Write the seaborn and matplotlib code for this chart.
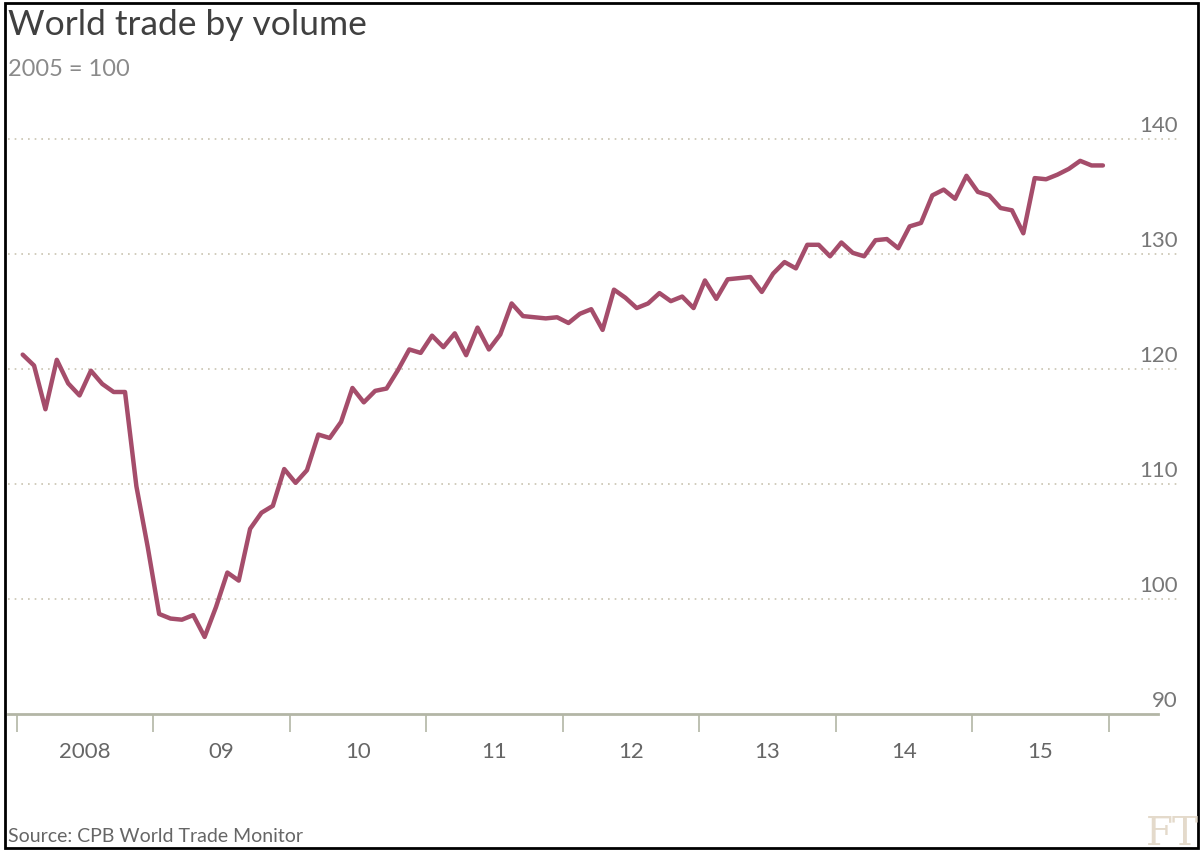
import matplotlib
matplotlib.use("Agg")
import matplotlib.pyplot as plt
import seaborn as sns
import pandas as pd
from matplotlib.transforms import offset_copy, blended_transform_factory
from matplotlib.patches import Rectangle

# ---- data (World trade by volume, 2005 = 100, monthly Jan 2008 - Dec 2015) ----
start_month = "2008-01-01"
volume = [
    121.25, 120.3, 116.5, 120.8, 118.75, 117.7, 119.85, 118.7, 118.0, 118.0, 109.8, 104.5,
    98.7, 98.3, 98.2, 98.6, 96.7, 99.3, 102.3, 101.6, 106.1, 107.5, 108.1, 111.3,
    110.1, 111.2, 114.3, 114.0, 115.4, 118.35, 117.1, 118.1, 118.3, 119.9, 121.7, 121.4,
    122.9, 121.9, 123.1, 121.2, 123.6, 121.7, 123.0, 125.7, 124.6, 124.5, 124.4, 124.5,
    124.0, 124.8, 125.2, 123.4, 126.9, 126.2, 125.3, 125.7, 126.6, 125.9, 126.3, 125.3,
    127.7, 126.1, 127.8, 127.9, 128.0, 126.7, 128.3, 129.3, 128.75, 130.8, 130.8, 129.8,
    131.0, 130.1, 129.8, 131.2, 131.3, 130.5, 132.4, 132.7, 135.1, 135.6, 134.8, 136.8,
    135.4, 135.1, 134.0, 133.8, 131.8, 136.6, 136.5, 136.9, 137.4, 138.1, 137.7, 137.7,
]
years = [2008, 2009, 2010, 2011, 2012, 2013, 2014, 2015]
year_labels = ["2008", "09", "10", "11", "12", "13", "14", "15"]
y_ticks = [90, 100, 110, 120, 130, 140]

title = "World trade by volume"
subtitle = "2005 = 100"
source = "Source: CPB World Trade Monitor"

# ---- build frame ----
months = pd.date_range(start_month, periods=len(volume), freq="MS")
df = pd.DataFrame({"month": months, "volume": volume})
df["x"] = df["month"].dt.year + (df["month"].dt.month - 0.5) / 12

sns.set_theme(style="white")
plt.rcParams["font.family"] = ["Lato", "DejaVu Sans"]

W, H = 1203, 851
fig = plt.figure(figsize=(W / 100, H / 100), dpi=100)
fig.patch.set_facecolor("white")

ax_left, ax_right, ax_top, ax_bottom = 8, 1178, 110, 714
ax = fig.add_axes([ax_left / W, 1 - ax_bottom / H, (ax_right - ax_left) / W, (ax_bottom - ax_top) / H])
ax.set_facecolor("white")

px_per_year = 136.45
x0_px = 17
px_per_unit = 11.5

line_color = "#a54d6b"
axis_color = "#b3b6a6"
grid_color = "#c9c4b0"

sns.lineplot(data=df, x="x", y="volume", ax=ax, color=line_color, linewidth=3.2)

xmin = years[0] + (ax_left - x0_px) / px_per_year
xmax = years[0] + (ax_right - x0_px) / px_per_year
ax.set_xlim(xmin, xmax)
ax.set_ylim(y_ticks[0], y_ticks[0] + (ax_bottom - ax_top) / px_per_unit)

for s in ["top", "left", "right"]:
    ax.spines[s].set_visible(False)
ax.spines["bottom"].set_color(axis_color)
ax.spines["bottom"].set_linewidth(2)
ax.spines["bottom"].set_bounds(xmin, years[0] + (1158 - x0_px) / px_per_year)

# gridlines
for v in y_ticks[1:]:
    ax.axhline(v, color=grid_color, lw=1.2, ls=(0, (1, 3)), zorder=0)

# y labels above gridlines on the right
tr = offset_copy(blended_transform_factory(ax.transAxes, ax.transData), fig=fig, y=7, units="dots")
for v in y_ticks:
    ax.text(1.0, v, str(v), transform=tr, ha="right", va="baseline", fontsize=16, color="#777777")
ax.set_yticks([])
ax.set_ylabel("")
ax.set_xlabel("")

# x ticks
ax.set_xticks(years + [years[-1] + 1])
ax.set_xticklabels([])
ax.set_xticks([y + 0.5 for y in years], minor=True)
ax.set_xticklabels(year_labels, minor=True)
ax.tick_params(axis="x", which="major", bottom=True, direction="out", length=13, width=1.2, color=axis_color)
ax.tick_params(axis="x", which="minor", bottom=True, length=0, pad=20, labelsize=16, labelcolor="#666666")

# texts
fig.text(8 / W, 1 - 25 / H, title, fontsize=25.5, color="#404040", va="center", ha="left")
fig.text(8 / W, 1 - 70 / H, subtitle, fontsize=17, color="#8a8a8a", va="center", ha="left")
fig.text(8 / W, 1 - 836 / H, source, fontsize=14, color="#666666", va="center", ha="left")
fig.text(1146 / W, 6 / H, "FT", fontsize=28, family=["DejaVu Serif"], color="#e4dacb", va="baseline", ha="left")

# frame border
fig.patches.append(Rectangle((5 / W, 3 / H), 1193 / W, 845 / H, transform=fig.transFigure,
                             fill=False, edgecolor="black", linewidth=2))

fig.savefig("out.png", dpi=100)
